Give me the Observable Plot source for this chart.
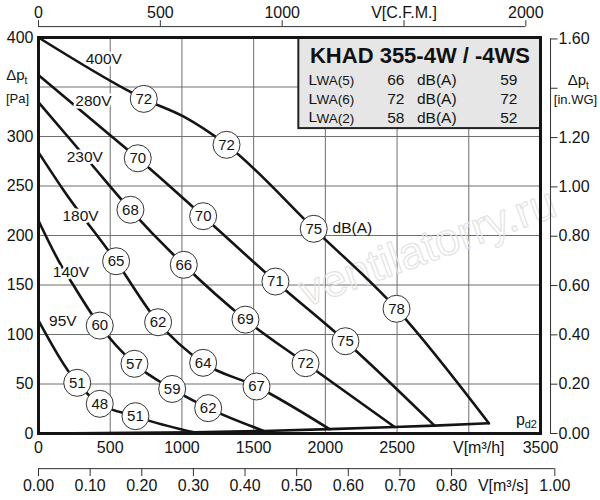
<!DOCTYPE html>
<html><head><meta charset="utf-8">
<script src="https://cdn.jsdelivr.net/npm/d3@7"></script>
<script src="https://cdn.jsdelivr.net/npm/@observablehq/plot@0.6"></script>
<style>
body{margin:0;background:#fff;}
#chart svg{display:block;}
</style></head><body><div id="chart"></div>
<script>
// ---------- data ----------
const flowTicks = [0, 500, 1000, 1500, 2000, 2500, 3000, 3500];
const flowTickLabels = ["0", "500", "1000", "1500", "2000", "2500", "", "3500"];
const flowAxisTitle = "V[m³/h]";
const flowGrid = [500, 1000, 1500, 2000, 2500, 3000];

const pressureTicks = [0, 50, 100, 150, 200, 250, 300, 350, 400];
const pressureTickLabels = ["0", "50", "100", "150", "200", "250", "300", "", "400"];
const pressureGrid = [50, 100, 150, 200, 250, 300, 350];

const cfmTicks = [0, 500, 1000, 1500, 2000];
const cfmTickLabels = ["0", "500", "1000", "V[C.F.M.]", "2000"];
const M3H_PER_CFM = 1.699;

const inwgTicks = [0, 0.2, 0.4, 0.6, 0.8, 1.0, 1.2, 1.4, 1.6];
const inwgTickLabels = ["0.00", "0.20", "0.40", "0.60", "0.80", "1.00", "1.20", "", "1.60"];
const PA_PER_INWG = 249.09;

const m3sTicks = [0, 0.1, 0.2, 0.3, 0.4, 0.5, 0.6, 0.7, 0.8, 0.9, 1.0];
const m3sTickLabels = ["0.00", "0.10", "0.20", "0.30", "0.40", "0.50", "0.60", "0.70", "0.80", "V[m³/s]", "1.00"];
const M3H_PER_M3S = 3600;

// fan curves [V m³/h, Δp Pa]
const curve400V = [[0, 400], [641, 345], [734, 338], [1013, 320], [1311, 291.6], [1919, 207], [2496, 126], [3140, 10.4]];
const curve280V = [[0, 362], [502, 301], [692, 278], [1148, 219.5], [1652, 153.5], [2140, 93.2], [2761, 8]];
const curve230V = [[0, 334.5], [351, 275], [641, 226], [1013, 170.4], [1443, 115], [1862, 71], [2484, 6.5]];
const curve180V = [[0, 284], [176, 245.5], [541, 174], [834, 112.4], [1148, 71.4], [1520, 47.5], [2029, 4.4]];
const curve140V = [[0, 215], [165, 168], [223, 154.5], [427, 109], [669, 70.4], [932, 45], [1183, 25.6], [1571, 2.6]];
const curve95V  = [[0, 114], [270, 51.2], [427, 30], [676, 17.5], [769, 13], [1083, 1.2]];
const curvePd2  = [[0, 0], [1083, 1.2], [1571, 2.6], [2029, 4.4], [2484, 6.5], [2761, 8], [3140, 10.4]];

// sound level markers [V, Δp, dB(A)]
const sound400V = [[734, 338, 72], [1311, 291.6, 72], [1919, 206.8, 75], [2496, 126, 78]];
const sound280V = [[692, 278, 70], [1148, 219.5, 70], [1652, 153.5, 71], [2140, 93.2, 75]];
const sound230V = [[641, 226, 68], [1013, 170.4, 66], [1443, 115, 69], [1862, 71, 72]];
const sound180V = [[541, 174, 65], [834, 112.4, 62], [1148, 71.4, 64], [1520, 47.5, 67]];
const sound140V = [[427, 109, 60], [669, 70.4, 57], [932, 45, 59], [1183, 25.6, 62]];
const sound95V  = [[270, 51.2, 51], [427, 30, 48], [676, 17.5, 51]];

const voltageNames = ["400V", "280V", "230V", "180V", "140V", "95V"];
const voltageLabelAt = [[455, 378], [383, 336], [323, 279], [293, 220], [226, 163], [170, 114]];

const modelTitle = "KHAD 355-4W / -4WS";
const lwaSub = ["WA(5)", "WA(6)", "WA(2)"];
const lwaW = [66, 72, 58];
const lwaWS = [59, 72, 52];

// ---------- tables ----------
const curves = [
  ["400V", curve400V], ["280V", curve280V], ["230V", curve230V],
  ["180V", curve180V], ["140V", curve140V], ["95V", curve95V], ["pd2", curvePd2]
].flatMap(([name, pts]) => pts.map(([v, p]) => ({name, v, p})));
const sounds = [sound400V, sound280V, sound230V, sound180V, sound140V, sound95V]
  .flatMap(arr => arr.map(([v, p, db]) => ({v, p, db})));
const volts = voltageNames.map((t, i) => ({t, v: voltageLabelAt[i][0], p: voltageLabelAt[i][1]}));

const flowT = flowTicks.map((v, i) => ({v, label: flowTickLabels[i]})).filter(d => d.label);
const presT = pressureTicks.map((p, i) => ({p, label: pressureTickLabels[i]})).filter(d => d.label);
const cfmT = cfmTicks.map((c, i) => ({v: c * M3H_PER_CFM, label: cfmTickLabels[i]}));
const inwgT = inwgTicks.map((w, i) => ({p: w * PA_PER_INWG, label: inwgTickLabels[i]}));
const m3sT = m3sTicks.map((s, i) => ({v: s * M3H_PER_M3S, label: m3sTickLabels[i], tick: i !== 9}));

// ---------- layout (in scale units, outside the plotted domain) ----------
const TOP_AXIS_P = 411, TOP_TICK_P = 417;
const M3S_AXIS_P = -35.5, M3S_TICK_P = -43.5;
const RIGHT_AXIS_V = 3570, RIGHT_TICK_V = 3622;
const BOX = {x1: 1815, x2: 3500, y1: 308, y2: 400};

const FONT = "'Liberation Sans', Arial, sans-serif";
const INK = "#141414";
const T = (opts) => ({lineAnchor: "middle", fill: INK, ...opts});

const plot = Plot.plot({
  width: 600, height: 500,
  marginLeft: 38, marginRight: 60, marginTop: 37, marginBottom: 67,
  x: {domain: [0, 3500], axis: null},
  y: {domain: [0, 400], axis: null},
  style: {fontFamily: FONT, fontSize: "15px", color: INK, background: "white", overflow: "visible"},
  marks: [
    Plot.ruleX(flowGrid, {stroke: "#6e6e6e", strokeWidth: 1}),
    Plot.ruleY(pressureGrid, {stroke: "#6e6e6e", strokeWidth: 1}),
    Plot.text(["ventilatorry.ru"], T({frameAnchor: "middle", dx: 138, dy: 12, rotate: -20, fontSize: 45,
      fill: "none", stroke: "#e3e3e3", strokeWidth: 1.2})),
    Plot.rect([BOX], {x1: "x1", x2: "x2", y1: "y1", y2: "y2", fill: "#e6e6e6", stroke: "#222", strokeWidth: 2}),
    Plot.frame({stroke: INK, strokeWidth: 3}),
    Plot.line(curves, {x: "v", y: "p", z: "name", curve: "monotone-x", stroke: INK, strokeWidth: 2.6}),
    Plot.dot(sounds, {x: "v", y: "p", r: 13.5, fill: "white", stroke: "#333", strokeWidth: 1}),
    Plot.text(sounds, T({x: "v", y: "p", text: "db", fontSize: 15})),
    Plot.text(volts, T({x: "v", y: "p", text: "t", fontSize: 15.5, stroke: "white", strokeWidth: 5})),
    Plot.text(["dB(A)"], T({x: [2050], y: [207.5], textAnchor: "start", fontSize: 15.5})),
    Plot.text(["p"], T({x: [3330], y: [14], textAnchor: "start", fontSize: 16})),
    Plot.text(["d2"], T({x: [3390], y: [9], textAnchor: "start", fontSize: 11})),

    // bottom m³/h axis
    Plot.text(flowT, T({x: "v", text: "label", frameAnchor: "bottom", textAnchor: "middle", dy: 14, fontSize: 16})),
    Plot.text([flowAxisTitle], T({x: [3000], frameAnchor: "bottom", textAnchor: "middle", dx: 10, dy: 14, fontSize: 16})),
    // left Pa axis
    Plot.text(presT, T({y: "p", text: "label", frameAnchor: "left", dx: -5, textAnchor: "end", fontSize: 16})),
    Plot.text(["Δp"], T({frameAnchor: "top-left", dx: -14, dy: 38, textAnchor: "end", fontSize: 15})),
    Plot.text(["t"], T({frameAnchor: "top-left", dx: -14, dy: 43, textAnchor: "start", fontSize: 10})),
    Plot.text(["[Pa]"], T({frameAnchor: "top-left", dx: -21, dy: 61, textAnchor: "middle", fontSize: 13})),
    // top CFM axis
    Plot.ruleY([TOP_AXIS_P], {x1: 0, x2: 2000 * M3H_PER_CFM, stroke: "#333", strokeWidth: 1}),
    Plot.ruleX(cfmT, {x: "v", y1: TOP_AXIS_P, y2: TOP_TICK_P, stroke: "#333", strokeWidth: 1}),
    Plot.text(cfmT, T({x: "v", text: "label", frameAnchor: "top", textAnchor: "middle", dy: -25, fontSize: 16})),
    // right in.WG axis
    Plot.ruleX([RIGHT_AXIS_V], {y1: 0, y2: 1.6 * PA_PER_INWG, stroke: "#333", strokeWidth: 1}),
    Plot.ruleY(inwgT, {y: "p", x1: RIGHT_AXIS_V, x2: RIGHT_TICK_V, stroke: "#333", strokeWidth: 1}),
    Plot.text(inwgT.filter(d => d.label), T({y: "p", text: "label", frameAnchor: "right", dx: 18, textAnchor: "start", fontSize: 16})),
    Plot.text(["Δp"], T({frameAnchor: "top-right", dx: 45.5, dy: 43, textAnchor: "end", fontSize: 15})),
    Plot.text(["t"], T({frameAnchor: "top-right", dx: 45.5, dy: 48, textAnchor: "start", fontSize: 10})),
    Plot.text(["[in.WG]"], T({frameAnchor: "top-right", dx: 35, dy: 62.5, textAnchor: "middle", fontSize: 13})),
    // bottom m³/s axis
    Plot.ruleY([M3S_AXIS_P], {x1: 0, x2: M3H_PER_M3S, stroke: "#333", strokeWidth: 1}),
    Plot.ruleX(m3sT.filter(d => d.tick), {x: "v", y1: M3S_AXIS_P, y2: M3S_TICK_P, stroke: "#333", strokeWidth: 1}),
    Plot.text(m3sT, T({x: "v", text: "label", frameAnchor: "bottom", textAnchor: "middle", dy: 52, fontSize: 16})),

    // info box
    Plot.text([modelTitle], T({frameAnchor: "top-left", dx: 381.5, dy: 18.5, textAnchor: "middle", fontSize: 22, fontWeight: "bold", fill: "#111"})),
    ...lwaSub.flatMap((s, i) => [
      Plot.text(["L"], T({frameAnchor: "top-left", dx: 270, dy: 42.5 + i * 18.7, textAnchor: "start", fontSize: 15.5})),
      Plot.text([s], T({frameAnchor: "top-left", dx: 278, dy: 43.5 + i * 18.7, textAnchor: "start", fontSize: 13.5})),
      Plot.text([String(lwaW[i])], T({frameAnchor: "top-left", dx: 366, dy: 43 + i * 18.7, textAnchor: "end", fontSize: 15.5})),
      Plot.text(["dB(A)"], T({frameAnchor: "top-left", dx: 378.5, dy: 43 + i * 18.7, textAnchor: "start", fontSize: 15.5})),
      Plot.text([String(lwaWS[i])], T({frameAnchor: "top-left", dx: 479, dy: 43 + i * 18.7, textAnchor: "end", fontSize: 15.5}))
    ])
  ]
});
document.getElementById("chart").appendChild(plot);
</script></body></html>
